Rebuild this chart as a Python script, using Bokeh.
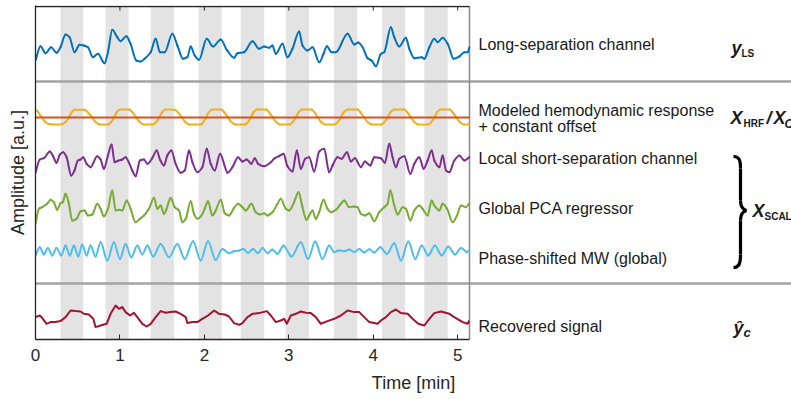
from bokeh.plotting import figure
from bokeh.models import Range1d, FixedTicker
from bokeh.core.properties import value
from bokeh.embed import file_html
from bokeh.resources import INLINE

# ---------------- data (time in min, amplitude in a.u.) ----------------
T_END = 5.14
TICKS = [0, 1, 2, 3, 4, 5]
BLOCK_START = [0.296, 0.830, 1.364, 1.933, 2.431, 2.964, 3.534, 4.103, 4.605]
BLOCK_END = [0.565, 1.103, 1.640, 2.206, 2.708, 3.241, 3.810, 4.379, 4.881]

LONG_SEP = [(0.000, -1.0), (0.059, 0.43), (0.119, -0.27), (0.186, 0.33), (0.249, -0.23), (0.296, 0.33),
            (0.356, 1.6), (0.403, 1.33), (0.462, -0.17), (0.522, 0.57), (0.573, 0.5), (0.621, 0.33),
            (0.680, -0.67), (0.739, -0.33), (0.818, -1.27), (0.858, -0.17), (0.909, 2.07), (0.968, 1.33),
            (1.008, 0.93), (1.075, 1.43), (1.126, 0.67), (1.194, -1.0), (1.245, -1.1), (1.292, -0.83),
            (1.364, -0.17), (1.423, 1.17), (1.474, -0.17), (1.530, -0.17), (1.621, 1.67), (1.680, 0.5),
            (1.747, -0.83), (1.798, -0.67), (1.838, 0.4), (1.885, -0.5), (1.937, -0.93), (2.028, 1.17),
            (2.103, 0.4), (2.194, 1.1), (2.265, 0.07), (2.352, -0.73), (2.391, -0.27), (2.470, -0.17),
            (2.569, 0.93), (2.648, 0.17), (2.708, 0.4), (2.767, 0.27), (2.806, 0.5), (2.846, -0.33),
            (2.925, 0.67), (2.984, -0.67), (3.043, 0.17), (3.123, 1.9), (3.162, 0.5), (3.221, 0.0),
            (3.281, 0.33), (3.360, -1.17), (3.411, -0.33), (3.451, 0.43), (3.506, -0.17), (3.557, -0.17),
            (3.696, 1.67), (3.775, 0.6), (3.822, 0.8), (3.874, 0.33), (3.933, -0.77), (3.980, -1.0),
            (4.032, -1.57), (4.091, -0.33), (4.130, -0.17), (4.209, 2.33), (4.249, 1.33), (4.308, 0.4),
            (4.387, 1.27), (4.427, 0.17), (4.486, -0.77), (4.573, -0.67), (4.605, -0.83), (4.664, 0.33),
            (4.723, 1.17), (4.763, 0.83), (4.822, 1.27), (4.881, 0.67), (4.953, -0.83), (5.020, -0.6),
            (5.079, -0.17), (5.119, -0.17), (5.138, 0.33)]

HRF = [(0.000, 0.77), (0.028, 0.6), (0.051, 0.3), (0.079, 0.0), (0.111, -0.4), (0.158, -0.65), (0.217, -0.7),
       (0.316, -0.67), (0.356, -0.45), (0.395, 0.0), (0.427, 0.5), (0.462, 0.78), (0.581, 0.77), (0.621, 0.5),
       (0.672, 0.0), (0.711, -0.45), (0.759, -0.7), (0.858, -0.7), (0.897, -0.45), (0.929, 0.0), (0.960, 0.5),
       (1.000, 0.8), (1.111, 0.8), (1.150, 0.5), (1.194, 0.0), (1.233, -0.45), (1.285, -0.7), (1.391, -0.7),
       (1.431, -0.45), (1.466, 0.0), (1.498, 0.5), (1.538, 0.8), (1.648, 0.78), (1.688, 0.5), (1.735, 0.0),
       (1.775, -0.45), (1.822, -0.7), (1.957, -0.7), (1.988, -0.45), (2.020, 0.0), (2.051, 0.5), (2.087, 0.8),
       (2.202, 0.8), (2.237, 0.5), (2.281, 0.0), (2.320, -0.45), (2.368, -0.7), (2.482, -0.7), (2.518, -0.45),
       (2.549, 0.0), (2.581, 0.5), (2.621, 0.8), (2.731, 0.8), (2.767, 0.5), (2.810, 0.0), (2.850, -0.45),
       (2.897, -0.7), (3.008, -0.7), (3.047, -0.45), (3.083, 0.0), (3.115, 0.5), (3.154, 0.8), (3.269, 0.8),
       (3.304, 0.5), (3.344, 0.0), (3.383, -0.45), (3.431, -0.7), (3.545, -0.7), (3.581, -0.45), (3.617, 0.0),
       (3.648, 0.5), (3.696, 0.8), (3.814, 0.8), (3.850, 0.5), (3.893, 0.0), (3.933, -0.45), (3.980, -0.7),
       (4.099, -0.7), (4.134, -0.45), (4.170, 0.0), (4.202, 0.5), (4.249, 0.8), (4.368, 0.8), (4.403, 0.5),
       (4.447, 0.0), (4.486, -0.45), (4.534, -0.7), (4.652, -0.7), (4.688, -0.45), (4.723, 0.0), (4.755, 0.5),
       (4.794, 0.8), (4.905, 0.8), (4.941, 0.5), (4.984, 0.0), (5.024, -0.45), (5.071, -0.7), (5.138, -0.7)]

CONST_OFFSET = [(0.0, 0.0), (5.14, 0.0)]

SHORT_SEP = [(0.000, -1.23), (0.051, 0.10), (0.099, 0.23), (0.170, 0.90), (0.209, 0.43), (0.249, -0.23),
             (0.289, 0.60), (0.328, 0.83), (0.368, 0.33), (0.423, -1.50), (0.462, -1.00), (0.502, 0.00),
             (0.534, 0.10), (0.565, 0.33), (0.605, -0.33), (0.652, -0.67), (0.731, 0.43), (0.771, 0.10),
             (0.810, -0.83), (0.858, 0.50), (0.901, 1.60), (0.937, -0.17), (0.976, -0.03), (1.028, 0.10),
             (1.067, 0.33), (1.107, -0.23), (1.146, -1.00), (1.186, -1.57), (1.237, 0.00), (1.285, 0.10),
             (1.324, -0.33), (1.383, 0.23), (1.435, 1.00), (1.474, 0.10), (1.522, -0.50), (1.561, 0.50),
             (1.609, 1.00), (1.660, -0.33), (1.719, -1.23), (1.767, -1.00), (1.818, 1.00), (1.858, -0.17),
             (1.917, -1.17), (1.976, -0.67), (2.028, 1.17), (2.075, -0.33), (2.123, -1.00), (2.186, 0.67),
             (2.233, -0.33), (2.273, -1.23), (2.332, -0.67), (2.399, 0.33), (2.451, -0.10), (2.502, 0.10),
             (2.557, -0.33), (2.597, 0.23), (2.636, -0.33), (2.708, -0.57), (2.779, -0.23), (2.834, 0.23),
             (2.885, 0.43), (2.937, 0.67), (2.984, -0.57), (3.043, -1.10), (3.095, 1.00), (3.142, -0.83),
             (3.194, 0.17), (3.241, 0.33), (3.300, -1.10), (3.360, 0.90), (3.419, 1.17), (3.478, -1.17),
             (3.518, -0.50), (3.577, 0.33), (3.625, 0.17), (3.688, 0.83), (3.735, -0.10), (3.783, 0.23),
             (3.854, -0.67), (3.901, -0.10), (3.964, -0.50), (4.012, 0.33), (4.091, 0.23), (4.138, -0.23),
             (4.190, 1.67), (4.229, 0.33), (4.269, -0.67), (4.308, 0.17), (4.368, 0.43), (4.439, -1.33),
             (4.486, -0.33), (4.545, 0.33), (4.597, -0.83), (4.644, 0.00), (4.692, 1.00), (4.723, 0.00),
             (4.783, -0.67), (4.822, 0.50), (4.862, -1.00), (4.901, -1.17), (4.960, 0.00), (5.020, 0.50),
             (5.079, 0.00), (5.138, 0.33)]

GLOBAL_PCA = [(0.000, -1.33), (0.040, 0.17), (0.079, 0.33), (0.138, 0.67), (0.178, 1.07), (0.217, 0.83),
              (0.257, 0.07), (0.296, 0.73), (0.324, 0.83), (0.356, 1.67), (0.395, 0.67), (0.435, -1.00),
              (0.486, -0.83), (0.534, -0.07), (0.581, 0.00), (0.621, -0.50), (0.672, -0.40), (0.731, 0.67),
              (0.771, 0.17), (0.810, -0.60), (0.858, 0.17), (0.909, 2.00), (0.949, 0.00), (0.988, 0.07),
              (1.028, 0.00), (1.079, 1.00), (1.126, 0.17), (1.186, -1.17), (1.237, -0.83), (1.285, -0.50),
              (1.344, 0.17), (1.403, 1.27), (1.443, 0.17), (1.482, 0.50), (1.522, -0.33), (1.549, 0.07),
              (1.601, 1.27), (1.648, 0.33), (1.700, 0.00), (1.739, -1.17), (1.779, -0.83), (1.838, 0.93),
              (1.877, -0.33), (1.917, -0.83), (1.957, -0.60), (2.004, 0.17), (2.043, 0.93), (2.095, -0.50),
              (2.134, 0.00), (2.194, 1.07), (2.241, -0.27), (2.292, -0.50), (2.352, 0.27), (2.399, 0.67),
              (2.451, 0.33), (2.490, 0.00), (2.557, 0.67), (2.609, -0.17), (2.660, -0.40), (2.708, -0.27),
              (2.747, -0.50), (2.806, -0.17), (2.866, 0.67), (2.905, 1.17), (2.964, 0.17), (3.004, 0.00),
              (3.055, 0.67), (3.115, 1.83), (3.162, 0.33), (3.209, -0.93), (3.241, -0.50), (3.281, 0.00),
              (3.320, -0.83), (3.360, -0.17), (3.411, 1.07), (3.458, 0.17), (3.498, -0.17), (3.557, 0.07),
              (3.617, 0.67), (3.656, 1.00), (3.715, 0.33), (3.767, 0.40), (3.814, 0.33), (3.854, -0.33),
              (3.901, -0.50), (3.953, -0.27), (4.012, -1.07), (4.071, -0.17), (4.130, 0.33), (4.170, 0.67),
              (4.202, 2.00), (4.249, 0.50), (4.289, -0.40), (4.348, 0.33), (4.387, 0.17), (4.439, -1.00),
              (4.486, 0.00), (4.545, 0.50), (4.585, 0.17), (4.644, -0.50), (4.692, 1.00), (4.723, 0.50),
              (4.783, 0.00), (4.822, 0.67), (4.874, 0.17), (4.941, -1.17), (4.992, -0.50), (5.040, 0.50),
              (5.099, 0.33), (5.138, 0.73)]

PHASE_MW = [(0.000, -0.43), (0.051, 0.40), (0.099, -0.33), (0.146, 0.33), (0.198, -0.43), (0.249, 0.33),
            (0.304, -0.43), (0.356, 0.57), (0.407, -0.43), (0.455, 0.57), (0.506, -0.53), (0.553, 0.67),
            (0.605, -0.43), (0.652, 0.57), (0.711, -0.53), (0.771, 0.90), (0.850, -0.93), (0.929, 0.90),
            (1.000, -0.77), (1.067, 0.73), (1.134, -0.60), (1.206, 0.57), (1.265, -0.33), (1.324, 0.57),
            (1.395, -0.53), (1.482, 0.73), (1.581, -0.60), (1.680, 0.73), (1.767, -0.77), (1.866, 1.00),
            (1.957, -0.93), (2.043, 1.00), (2.134, -0.87), (2.213, 0.23), (2.292, -0.20), (2.352, 0.00),
            (2.411, 0.07), (2.462, 0.23), (2.518, -0.17), (2.577, 0.23), (2.636, -0.20), (2.688, 0.33),
            (2.747, -0.20), (2.806, 0.17), (2.866, -0.27), (2.937, 0.57), (3.032, -0.53), (3.142, 0.90),
            (3.229, -0.77), (3.312, 0.97), (3.399, -0.77), (3.478, 0.57), (3.538, -0.10), (3.585, 0.07),
            (3.656, 0.00), (3.715, 0.17), (3.775, -0.07), (3.834, 0.23), (3.893, -0.13), (3.953, 0.20),
            (4.012, -0.13), (4.083, 0.40), (4.162, -0.27), (4.249, 0.80), (4.328, -0.93), (4.415, 0.97),
            (4.498, -0.77), (4.573, 0.57), (4.652, -0.43), (4.731, 0.57), (4.810, -0.43), (4.889, 0.47),
            (4.968, -0.33), (5.040, 0.33), (5.111, -0.10), (5.138, 0.13)]

RECOVERED = [(0.000, 0.07), (0.051, 0.23), (0.079, 0.00), (0.130, -0.60), (0.178, -0.43), (0.237, -0.43),
             (0.296, -0.33), (0.356, 0.07), (0.415, 0.73), (0.474, 0.67), (0.534, 0.63), (0.573, 0.40),
             (0.632, 0.33), (0.684, -0.10), (0.711, -0.93), (0.771, -0.77), (0.842, -0.60), (0.889, 0.40),
             (0.949, 1.23), (0.988, 0.90), (1.028, 1.07), (1.067, 0.57), (1.119, 0.23), (1.166, 0.50),
             (1.206, 0.07), (1.265, -0.60), (1.316, -0.87), (1.364, -0.60), (1.423, 0.07), (1.482, 0.67),
             (1.542, 0.50), (1.601, 0.57), (1.660, 0.63), (1.719, 0.40), (1.779, 0.07), (1.798, -0.53),
             (1.858, -0.43), (1.917, -0.43), (1.976, -0.10), (2.043, 0.23), (2.115, 0.73), (2.174, 0.40),
             (2.241, 0.33), (2.292, 0.13), (2.352, -0.53), (2.411, -0.70), (2.451, -0.53), (2.510, 0.07),
             (2.569, 0.40), (2.648, 0.47), (2.739, 0.67), (2.787, 0.23), (2.846, -0.43), (2.905, -0.27),
             (2.945, -0.10), (2.976, -0.60), (3.024, 0.23), (3.083, 0.40), (3.142, 0.63), (3.202, 0.50),
             (3.261, 0.47), (3.320, 0.07), (3.379, -0.60), (3.458, -0.33), (3.538, -0.10), (3.617, 0.23),
             (3.696, 0.73), (3.775, 0.57), (3.834, 0.57), (3.893, 0.07), (3.953, -0.43), (4.051, -0.60),
             (4.091, -0.27), (4.150, 0.07), (4.209, 0.57), (4.269, 0.83), (4.328, 0.47), (4.407, 0.40),
             (4.466, -0.10), (4.534, -0.60), (4.605, -0.77), (4.664, -0.10), (4.723, 0.47), (4.802, 0.63),
             (4.901, 0.40), (4.960, 0.07), (5.059, -0.43), (5.119, -0.60), (5.138, -0.27)]

LABELS = ["Long-separation channel", "Modeled hemodynamic response", "+ constant offset",
          "Local short-separation channel", "Global PCA regressor", "Phase-shifted MW (global)",
          "Recovered signal"]

# ---------------- layout helpers (screen px -> data) ----------------
W, H = 791, 398
LEFT, TOP = 35, 5
FRAME_BOTTOM = 339
PX_PER_MIN = 434 / T_END
Y_TOP = (FRAME_BOTTOM - TOP) / 10.0  # 10 px per a.u.


def xd(px):
    return (px - LEFT) / PX_PER_MIN


def yd(py):
    return (FRAME_BOTTOM - py) / 10.0


FONT = value("Liberation Sans")
TXT = "#1a1a1a"
AX = "#262626"

p = figure(width=W, height=H, x_range=Range1d(0, (W - LEFT) / PX_PER_MIN), y_range=Range1d(0, Y_TOP),
           output_backend="svg", toolbar_location=None,
           min_border_left=LEFT, min_border_right=0, min_border_top=TOP,
           min_border_bottom=H - FRAME_BOTTOM)
p.outline_line_color = None
p.grid.visible = False
p.background_fill_color = "white"
p.border_fill_color = "white"

# stimulus blocks
p.quad(left=BLOCK_START, right=BLOCK_END, bottom=0, top=yd(6), fill_color="#e3e3e3", line_color=None)

# panel separators & right border
p.segment(x0=[0, 0], y0=[yd(81), yd(283)], x1=[xd(800)] * 2, y1=[yd(81), yd(283)],
          line_color="#a3a3a3", line_width=2.5)
p.segment(x0=[T_END], y0=[0], x1=[T_END], y1=[yd(6)], line_color="#8a8a8a", line_width=1.5)

# top border with inward ticks
p.segment(x0=[0], y0=[yd(6)], x1=[T_END], y1=[yd(6)], line_color=AX, line_width=1.3)
p.segment(x0=TICKS, y0=[yd(6)] * len(TICKS), x1=TICKS, y1=[yd(10)] * len(TICKS),
          line_color=AX, line_width=1.0)


def smooth_trace(pts, offset, color, width=2.0):
    """Draw a smooth (monotone cubic) curve through the read-off points."""
    x = [a for a, _ in pts]
    y = [offset + b for _, b in pts]
    n = len(x)
    d = [(y[i + 1] - y[i]) / (x[i + 1] - x[i]) for i in range(n - 1)]
    m = [0.0] * n
    m[0], m[-1] = d[0], d[-1]
    for i in range(1, n - 1):
        if d[i - 1] * d[i] <= 0:
            m[i] = 0.0
        else:
            m[i] = 2.0 / (1.0 / d[i - 1] + 1.0 / d[i])
    x0, y0, x1, y1, cx0, cy0, cx1, cy1 = [], [], [], [], [], [], [], []
    for i in range(n - 1):
        h = x[i + 1] - x[i]
        x0.append(x[i]); y0.append(y[i]); x1.append(x[i + 1]); y1.append(y[i + 1])
        cx0.append(x[i] + h / 3); cy0.append(y[i] + m[i] * h / 3)
        cx1.append(x[i + 1] - h / 3); cy1.append(y[i + 1] - m[i + 1] * h / 3)
    p.bezier(x0=x0, y0=y0, x1=x1, y1=y1, cx0=cx0, cy0=cy0, cx1=cx1, cy1=cy1,
             line_color=color, line_width=width, line_cap="round")


def line_trace(pts, offset, color, width=2.0):
    p.line([a for a, _ in pts], [offset + b for _, b in pts], line_color=color,
           line_width=width, line_join="round")


smooth_trace(LONG_SEP, yd(50), "#0072BD")
smooth_trace(HRF, yd(117), "#EDB120")
line_trace(CONST_OFFSET, yd(117), "#D95319")
smooth_trace(SHORT_SEP, yd(160), "#7E2F8E")
smooth_trace(GLOBAL_PCA, yd(210), "#77AC30")
smooth_trace(PHASE_MW, yd(250.7), "#4DBEEE")
line_trace(RECOVERED, yd(317.3), "#A2142F")

# right-hand labels
label_y = [44, 110, 126, 158, 208, 258, 326]
p.text(x=[xd(478)] * len(LABELS), y=[yd(v) for v in label_y], text=LABELS, text_font=FONT,
       text_font_size="16px", text_baseline="middle", text_align="left", text_color=TXT)


# math symbols
def sym(x, y, s, size, style="bold italic"):
    p.text(x=[xd(x)], y=[yd(y)], text=[s], text_font=FONT, text_font_size=size,
           text_font_style=style, text_baseline="middle", text_align="left", text_color=TXT)


sym(731, 47, "y", "18px")
sym(741, 53, "LS", "10px", "bold")
sym(730, 117, "X", "18px")
sym(743, 123, "HRF", "10px", "bold")
sym(766, 117, "/", "18px")
sym(773, 117, "X", "18px")
sym(784, 123, "C", "12px")
sym(752, 210, "X", "18px")
sym(764, 216, "SCALP", "10px", "bold")
sym(733, 327, "ŷ", "18px")
sym(743, 332, "c", "13px")

# curly brace
bx = xd(740)
p.bezier(x0=[xd(733), bx, xd(746), bx], y0=[yd(156), yd(200), yd(210), yd(254)],
         x1=[bx, xd(746), bx, xd(733)], y1=[yd(168), yd(210), yd(220), yd(267)],
         cx0=[xd(739), bx, xd(742), bx], cy0=[yd(156), yd(206), yd(211), yd(262)],
         cx1=[bx, xd(742), bx, xd(739)], cy1=[yd(160), yd(209), yd(214), yd(267)],
         line_color="black", line_width=3.2)
p.segment(x0=[bx, bx], y0=[yd(168), yd(220)], x1=[bx, bx], y1=[yd(200), yd(254)],
          line_color="black", line_width=3.2)

# axes
xa = p.xaxis[0]
xa.ticker = FixedTicker(ticks=TICKS)
xa.bounds = (0, T_END)
xa.major_tick_in = 5
xa.major_tick_out = 0
xa.minor_tick_line_color = None
xa.axis_line_color = AX
xa.axis_line_width = 1.3
xa.major_tick_line_color = AX
xa.major_label_text_font = "Liberation Sans"
xa.major_label_text_font_size = "17px"
xa.major_label_text_color = AX
xa.major_label_standoff = 9
xa.axis_label = "Time [min]"
xa.axis_label_text_font = "Liberation Sans"
xa.axis_label_text_font_size = "18px"
xa.axis_label_text_font_style = "normal"
xa.axis_label_text_color = AX
xa.axis_label_standoff = 9

ya = p.yaxis[0]
ya.ticker = FixedTicker(ticks=[])
ya.major_tick_in = 0
ya.major_tick_out = 0
ya.minor_tick_line_color = None
ya.major_label_standoff = 0
ya.axis_line_color = AX
ya.axis_line_width = 1.3
ya.axis_label = "Amplitude [a.u.]"
ya.axis_label_text_font = "Liberation Sans"
ya.axis_label_text_font_size = "18px"
ya.axis_label_text_font_style = "normal"
ya.axis_label_text_color = AX
ya.axis_label_standoff = 8

open("out.html", "w").write(file_html(p, INLINE))
